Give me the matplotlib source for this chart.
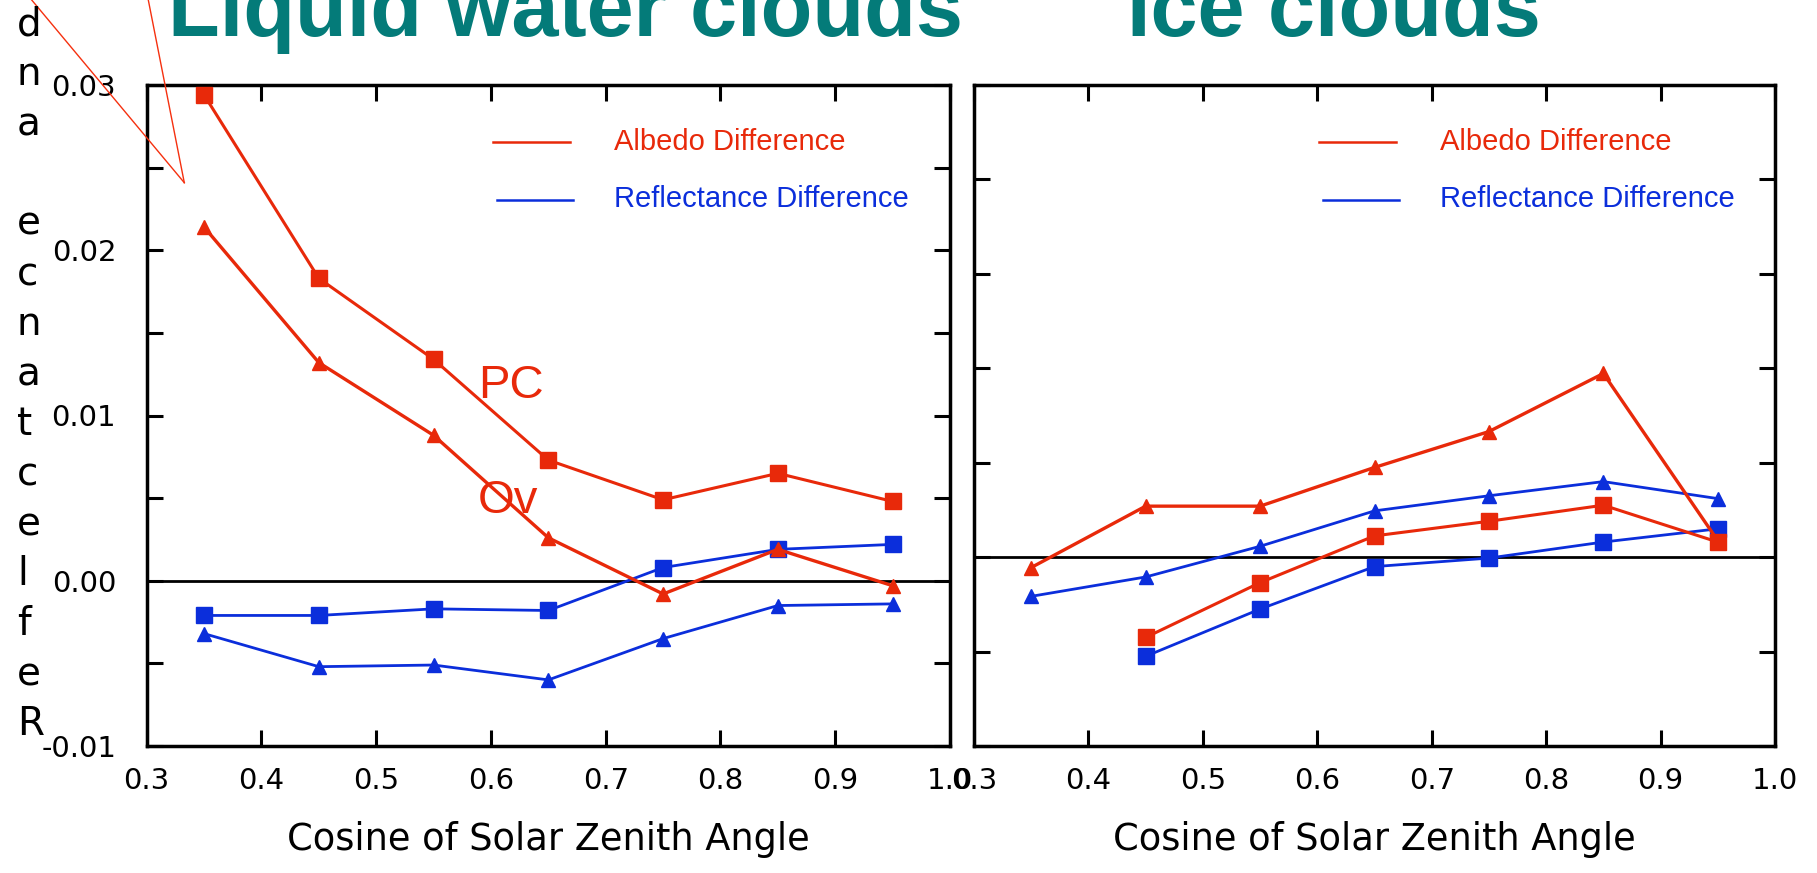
import matplotlib
matplotlib.use('Agg')
import matplotlib.pyplot as plt
from matplotlib.lines import Line2D
from matplotlib.ticker import MultipleLocator, FuncFormatter, NullFormatter

# --- data ---
cos_sza = [0.35, 0.45, 0.55, 0.65, 0.75, 0.85, 0.95]
cos_sza_ice_pc = [0.45, 0.55, 0.65, 0.75, 0.85, 0.95]

# liquid water clouds (PC = squares, Ov = triangles)
water_pc_albedo = [0.0294, 0.0183, 0.0134, 0.0073, 0.0049, 0.0065, 0.0048]
water_ov_albedo = [0.0214, 0.0132, 0.0088, 0.0026, -0.0008, 0.0019, -0.0003]
water_pc_refl = [-0.0021, -0.0021, -0.0017, -0.0018, 0.0008, 0.0019, 0.0022]
water_ov_refl = [-0.0032, -0.0052, -0.0051, -0.0060, -0.0035, -0.0015, -0.0014]

# ice clouds
ice_pc_albedo = [-0.0017, -0.00054, 0.00045, 0.00076, 0.0011, 0.00032]
ice_ov_albedo = [-0.00022, 0.00108, 0.00108, 0.0019, 0.00266, 0.00389, 0.00035]
ice_pc_refl = [-0.0021, -0.0011, -0.0002, -0.00002, 0.00032, 0.0006]
ice_ov_refl = [-0.00083, -0.00042, 0.00023, 0.00098, 0.0013, 0.0016, 0.00124]

x_ticks = [0.3, 0.4, 0.5, 0.6, 0.7, 0.8, 0.9, 1.0]
legend_labels = ['Albedo Difference', 'Reflectance Difference']
titles = ['Liquid water clouds', 'Ice clouds']
y_label = 'Reflectance and'
x_label = 'Cosine of Solar Zenith Angle'

RED = '#E8290A'
BLUE = '#0B2EDB'
TEAL = '#047B79'
W, H = 1817, 873


def px(x, y):
    """pixel position -> figure fraction"""
    return x / W, 1 - y / H


fig = plt.figure(figsize=(W / 100, H / 100), dpi=100)

ax1 = fig.add_axes([146.7 / W, 1 - 746 / H, 803.3 / W, 661 / H])
ax2 = fig.add_axes([974 / W, 1 - 746 / H, 801 / W, 661 / H])


def style_axes(ax):
    for s in ax.spines.values():
        s.set_linewidth(2.5)
    ax.set_xlim(0.3, 1.0)
    ax.set_xticks(x_ticks)
    ax.set_xticklabels(['%.1f' % v for v in x_ticks])
    ax.tick_params(which='both', direction='in', length=11.3, width=2.2,
                   top=True, right=True)
    ax.tick_params(axis='x', pad=15, labelsize=21)
    ax.tick_params(axis='y', pad=22, labelsize=21)
    ax.set_xlabel(x_label, fontsize=26.5, labelpad=19)
    ax.axhline(0, color='black', lw=2.0, zorder=1)


def draw_legend(ax):
    ax.plot([0.431, 0.527], [0.914, 0.914], color=RED, lw=1.8,
            transform=ax.transAxes)
    ax.plot([0.436, 0.531], [0.826, 0.826], color=BLUE, lw=1.8,
            transform=ax.transAxes)
    ax.text(0.582, 0.9017, legend_labels[0], color=RED, fontsize=21,
            family='Liberation Sans', transform=ax.transAxes, va='baseline')
    ax.text(0.582, 0.8154, legend_labels[1], color=BLUE, fontsize=21,
            family='Liberation Sans', transform=ax.transAxes, va='baseline')


# --- liquid water clouds ---
style_axes(ax1)
ax1.set_ylim(-0.01, 0.03)
ax1.yaxis.set_major_locator(MultipleLocator(0.01))
ax1.yaxis.set_minor_locator(MultipleLocator(0.005))
ax1.yaxis.set_major_formatter(FuncFormatter(lambda v, p: ('%.2f' % v).replace('-0.00', '0.00')))

ax1.plot(cos_sza, water_pc_refl, color=BLUE, lw=2.0, marker='s', ms=11, zorder=3)
ax1.plot(cos_sza, water_ov_refl, color=BLUE, lw=2.0, marker='^', ms=10.5, zorder=3)
ax1.plot(cos_sza, water_pc_albedo, color=RED, lw=2.2, marker='s', ms=11, zorder=4)
ax1.plot(cos_sza, water_ov_albedo, color=RED, lw=2.4, marker='^', ms=10.5, zorder=4)

ax1.text(0.4124, 0.5265, 'PC', color=RED, fontsize=34, family='Liberation Sans',
         transform=ax1.transAxes, va='baseline')
ax1.text(0.4124, 0.3525, 'Ov', color=RED, fontsize=34, family='Liberation Sans',
         transform=ax1.transAxes, va='baseline')
draw_legend(ax1)

# --- ice clouds ---
style_axes(ax2)
ax2.set_ylim(-0.004, 0.010)
ax2.yaxis.set_major_locator(MultipleLocator(0.002))
ax2.yaxis.set_major_formatter(NullFormatter())

ax2.plot(cos_sza, ice_ov_refl, color=BLUE, lw=2.0, marker='^', ms=10.5, zorder=3)
ax2.plot(cos_sza_ice_pc, ice_pc_refl, color=BLUE, lw=2.0, marker='s', ms=11, zorder=3)
ax2.plot(cos_sza, ice_ov_albedo, color=RED, lw=2.4, marker='^', ms=10.5, zorder=4)
ax2.plot(cos_sza_ice_pc, ice_pc_albedo, color=RED, lw=2.2, marker='s', ms=11, zorder=4)
draw_legend(ax2)

# titles
for txt, x0 in zip(titles, [168, 1127]):
    fig.text(*px(x0, 36), txt, fontsize=61, fontweight='bold', color=TEAL,
             family='Liberation Sans', ha='left', va='baseline')

# stacked y label, one upright letter per step
for i, ch in enumerate(y_label):
    if ch == ' ':
        continue
    fig.text(*px(17, 735 - 50 * i), ch, fontsize=28, ha='left', va='baseline')

# red callout pointer
apex = px(184.3, 182.7)
for x_top in [31.7, 148.3]:
    top = px(x_top, 0)
    fig.add_artist(Line2D([top[0], apex[0]], [top[1], apex[1]], color='#F5300F',
                          lw=1.0, transform=fig.transFigure))

fig.savefig('out.png', dpi=100)
